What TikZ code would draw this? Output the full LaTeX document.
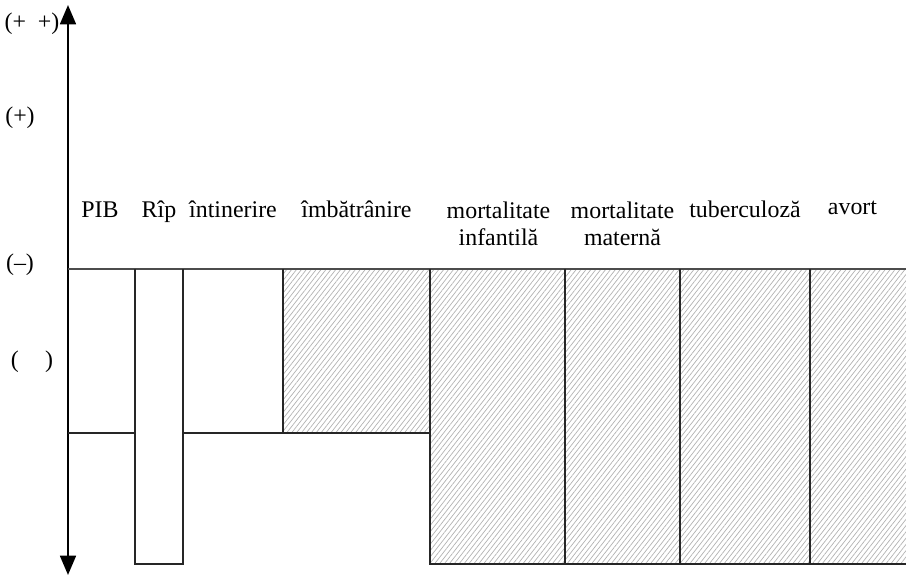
\documentclass[tikz,border=0pt]{standalone}
\usepackage{fontspec}
\setmainfont{Liberation Serif}
\usetikzlibrary{arrows.meta,patterns.meta}
\tikzset{
	bar/.style={line width=1.3pt, black!85},
	hatch/.style={pattern={Lines[angle=52, distance=2.2pt, line width=.4pt]}, pattern color=black!30},
	lbl/.style={inner sep=0pt, align=center, font=\fontsize{13.6}{15}\selectfont}
}
\begin{document}
\begin{tikzpicture}[line join=miter, >={Triangle[length=11pt,width=9pt]}]
		\useasboundingbox (0,0) rectangle (18.12,11.6);
		% hatched areas
		\fill[hatch]	(5.66,6.22) rectangle (8.6,2.94);
		\fill[hatch]	(8.6,6.22) rectangle (18.12,0.32);
		% axis
		\draw[<->, line width=1.3pt] (1.36,0.1)--(1.36,11.5);
		\draw[black!70, line width=.9pt] (1.36,6.22)--(18.12,6.22);
		\draw[bar]	(1.36,2.94)--(2.7,2.94)	(3.66,2.94)--(8.6,2.94);
		\draw[bar]	(2.7,6.22)--(2.7,0.32)--(3.66,0.32)--(3.66,6.22);
		\draw[bar]	(5.66,6.22)--(5.66,2.94);
		\draw[bar]	(8.6,6.22)--(8.6,0.32)--(18.12,0.32);
		\foreach \xx in {11.3,13.6,16.2}
			\draw[bar] (\xx,6.22)--(\xx,0.32);
		% axis labels
		\node[lbl] (pp) at (0.64,11.12) {(+\hspace{0.5em}+)};
		\node[lbl] (p) at (0.4,9.24) {(+)};
		\node[lbl] (m) at (0.4,6.3) {(--)};
		\node[lbl] (z) at (0.64,4.36) {(\hspace{1.1em})};
		% column labels
		\node[lbl, anchor=base] (pib) at (2.0,7.24) {PIB};
		\node[lbl, anchor=base] (rip) at (3.18,7.24) {Rîp};
		\node[lbl, anchor=base] (intin) at (4.66,7.24) {întinerire};
		\node[lbl, anchor=base] (imbat) at (7.13,7.24) {îmbătrânire};
		\node[lbl, anchor=north] (minf) at (9.97,7.56) {mortalitate\\infantilă};
		\node[lbl, anchor=north] (mmat) at (12.45,7.56) {mortalitate\\maternă};
		\node[lbl, anchor=base] (tbc) at (14.9,7.24) {tuberculoză};
		\node[lbl, anchor=base] (avort) at (17.05,7.3) {avort};
	\end{tikzpicture}
\end{document}
